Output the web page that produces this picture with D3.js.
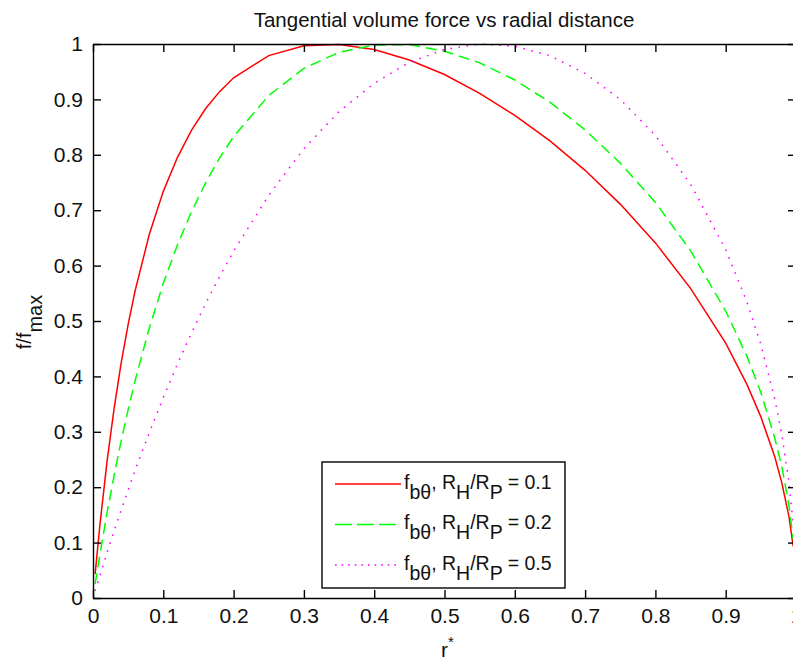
<!DOCTYPE html>
<html>
<head>
  <meta charset="utf-8">
  <title>Tangential volume force vs radial distance</title>
  <script src="https://cdn.jsdelivr.net/npm/d3@7"></script>
  <style>
    body { margin: 0; background: #fff; }
    svg { display: block; font-family: "Liberation Sans", Arial, Helvetica, sans-serif; }
  </style>
</head>
<body>
<script>

// radial positions r* and the three normalised force curves
var rStar = [0.003, 0.01, 0.02, 0.03, 0.04, 0.05, 0.06, 0.08, 0.1, 0.12, 0.14, 0.16, 0.18, 0.2,
  0.25, 0.3, 0.35, 0.4, 0.45, 0.5, 0.55, 0.6, 0.65, 0.7, 0.75, 0.8, 0.85, 0.9, 0.93, 0.95,
  0.97, 0.98, 0.99, 0.996];
var hub01 = [0.043, 0.134, 0.247, 0.342, 0.424, 0.494, 0.555, 0.656, 0.734, 0.795, 0.844, 0.883, 0.914, 0.939,
  0.979, 0.997, 0.999, 0.990, 0.971, 0.945, 0.911, 0.871, 0.825, 0.772, 0.711, 0.641, 0.559, 0.460, 0.386, 0.327,
  0.254, 0.207, 0.147, 0.093];
var hub02 = [0.025, 0.080, 0.154, 0.221, 0.283, 0.340, 0.393, 0.487, 0.568, 0.637, 0.697, 0.749, 0.794, 0.833,
  0.907, 0.956, 0.985, 0.998, 0.999, 0.987, 0.966, 0.935, 0.895, 0.845, 0.785, 0.714, 0.627, 0.518, 0.437, 0.371,
  0.288, 0.236, 0.167, 0.106];
var hub05 = [0.013, 0.041, 0.082, 0.121, 0.158, 0.195, 0.231, 0.298, 0.362, 0.422, 0.478, 0.531, 0.580, 0.626,
  0.727, 0.811, 0.878, 0.929, 0.967, 0.990, 1.000, 0.996, 0.979, 0.947, 0.900, 0.835, 0.747, 0.629, 0.535, 0.458,
  0.358, 0.294, 0.209, 0.133];

var legendRatios = ["0.1", "0.2", "0.5"];
var xTicks = [0, 0.1, 0.2, 0.3, 0.4, 0.5, 0.6, 0.7, 0.8, 0.9, 1];
var yTicks = [0, 0.1, 0.2, 0.3, 0.4, 0.5, 0.6, 0.7, 0.8, 0.9, 1];

var w = 793;
var h = 662;
// plot box (right edge sits just past the picture, as in the original figure)
var plotL = 93, plotT = 44, plotR = 796, plotB = 598;

var svg = d3.select("body")
  .append("svg")
  .attr("width", w)
  .attr("height", h);

var x = d3.scaleLinear().domain([0, 1]).range([plotL, plotR]);
var y = d3.scaleLinear().domain([0, 1]).range([plotB, plotT]);

var series = [
  { values: hub01, color: "#ff0000", dash: null, legendDash: null },
  { values: hub02, color: "#00ff00", dash: "11,6", legendDash: "17,5" },
  { values: hub05, color: "#ff00ff", dash: "1.6,6.6", legendDash: "1.6,5" }
];

svg.append("clipPath").attr("id", "plotClip")
  .append("rect")
  .attr("x", plotL).attr("y", plotT - 2)
  .attr("width", plotR - plotL).attr("height", plotB - plotT + 2);

// curves
var line = d3.line()
  .x(function(d, i) { return x(rStar[i]); })
  .y(function(d) { return y(d); });

svg.append("g")
  .attr("clip-path", "url(#plotClip)")
  .selectAll("path")
  .data(series)
  .enter()
  .append("path")
  .attr("d", function(d) { return line(d.values); })
  .attr("fill", "none")
  .attr("stroke", function(d) { return d.color; })
  .attr("stroke-width", 1.5)
  .attr("stroke-dasharray", function(d) { return d.dash; });

// axes, ticks pointing inward like matlab
var fmt = d3.format("~g");

function styleAxis(g) {
  g.attr("font-family", null).attr("font-size", null);
  g.selectAll(".domain").attr("stroke", "#000").attr("stroke-width", 1.4);
  g.selectAll(".tick line").attr("stroke", "#000").attr("stroke-width", 1.4);
  g.selectAll(".tick text").attr("fill", "#111").attr("font-size", "21px");
}

svg.append("g")
  .attr("transform", "translate(0," + plotB + ")")
  .call(d3.axisBottom(x).tickValues(xTicks).tickFormat(fmt).tickSize(-8).tickSizeOuter(0).tickPadding(10))
  .call(styleAxis);

svg.append("g")
  .attr("transform", "translate(" + plotL + ",0)")
  .call(d3.axisLeft(y).tickValues(yTicks).tickFormat(fmt).tickSize(-8).tickSizeOuter(0).tickPadding(10))
  .call(styleAxis);

svg.append("g")
  .attr("transform", "translate(0," + plotT + ")")
  .call(d3.axisTop(x).tickValues(xTicks).tickFormat("").tickSize(-8).tickSizeOuter(0))
  .call(styleAxis);

svg.append("g")
  .attr("transform", "translate(" + plotR + ",0)")
  .call(d3.axisRight(y).tickValues(yTicks).tickFormat("").tickSize(-8).tickSizeOuter(0))
  .call(styleAxis);

// title and axis labels
svg.append("text")
  .attr("x", 444)
  .attr("y", 27)
  .attr("text-anchor", "middle")
  .attr("font-size", "20.5px")
  .attr("fill", "#111")
  .text("Tangential volume force vs radial distance");

var xl = svg.append("text")
  .attr("x", 441)
  .attr("y", 657)
  .attr("font-size", "21px")
  .attr("fill", "#111");
xl.append("tspan").text("r");
xl.append("tspan").attr("dy", -10).attr("font-size", "15px").text("*");

var yl = svg.append("text")
  .attr("transform", "translate(31,322) rotate(-90)")
  .attr("text-anchor", "middle")
  .attr("font-size", "20px")
  .attr("fill", "#111");
yl.append("tspan").text("f/f");
yl.append("tspan").attr("dy", 11).text("max");

// legend
var legend = svg.append("g");
legend.append("rect")
  .attr("x", 322).attr("y", 462)
  .attr("width", 243).attr("height", 126)
  .attr("fill", "#fff")
  .attr("stroke", "#000")
  .attr("stroke-width", 1.4);

var rows = legend.selectAll("g.row")
  .data(series)
  .enter()
  .append("g")
  .attr("class", "row")
  .attr("transform", function(d, i) { return "translate(0," + (484 + i * 40.5) + ")"; });

rows.append("line")
  .attr("x1", 335).attr("x2", 401)
  .attr("stroke", function(d) { return d.color; })
  .attr("stroke-width", 1.5)
  .attr("stroke-dasharray", function(d) { return d.legendDash; });

var label = rows.append("text")
  .attr("x", 404)
  .attr("y", 4.5)
  .attr("font-size", "19.5px")
  .attr("fill", "#111");
label.append("tspan").text("f");
label.append("tspan").attr("dy", 10).text("b\u03b8");
label.append("tspan").attr("dy", -10).text(", R");
label.append("tspan").attr("dy", 10).text("H");
label.append("tspan").attr("dy", -10).text("/R");
label.append("tspan").attr("dy", 10).text("P");
label.append("tspan").attr("dy", -10).text(function(d, i) { return " = " + legendRatios[i]; });

</script>
</body>
</html>
